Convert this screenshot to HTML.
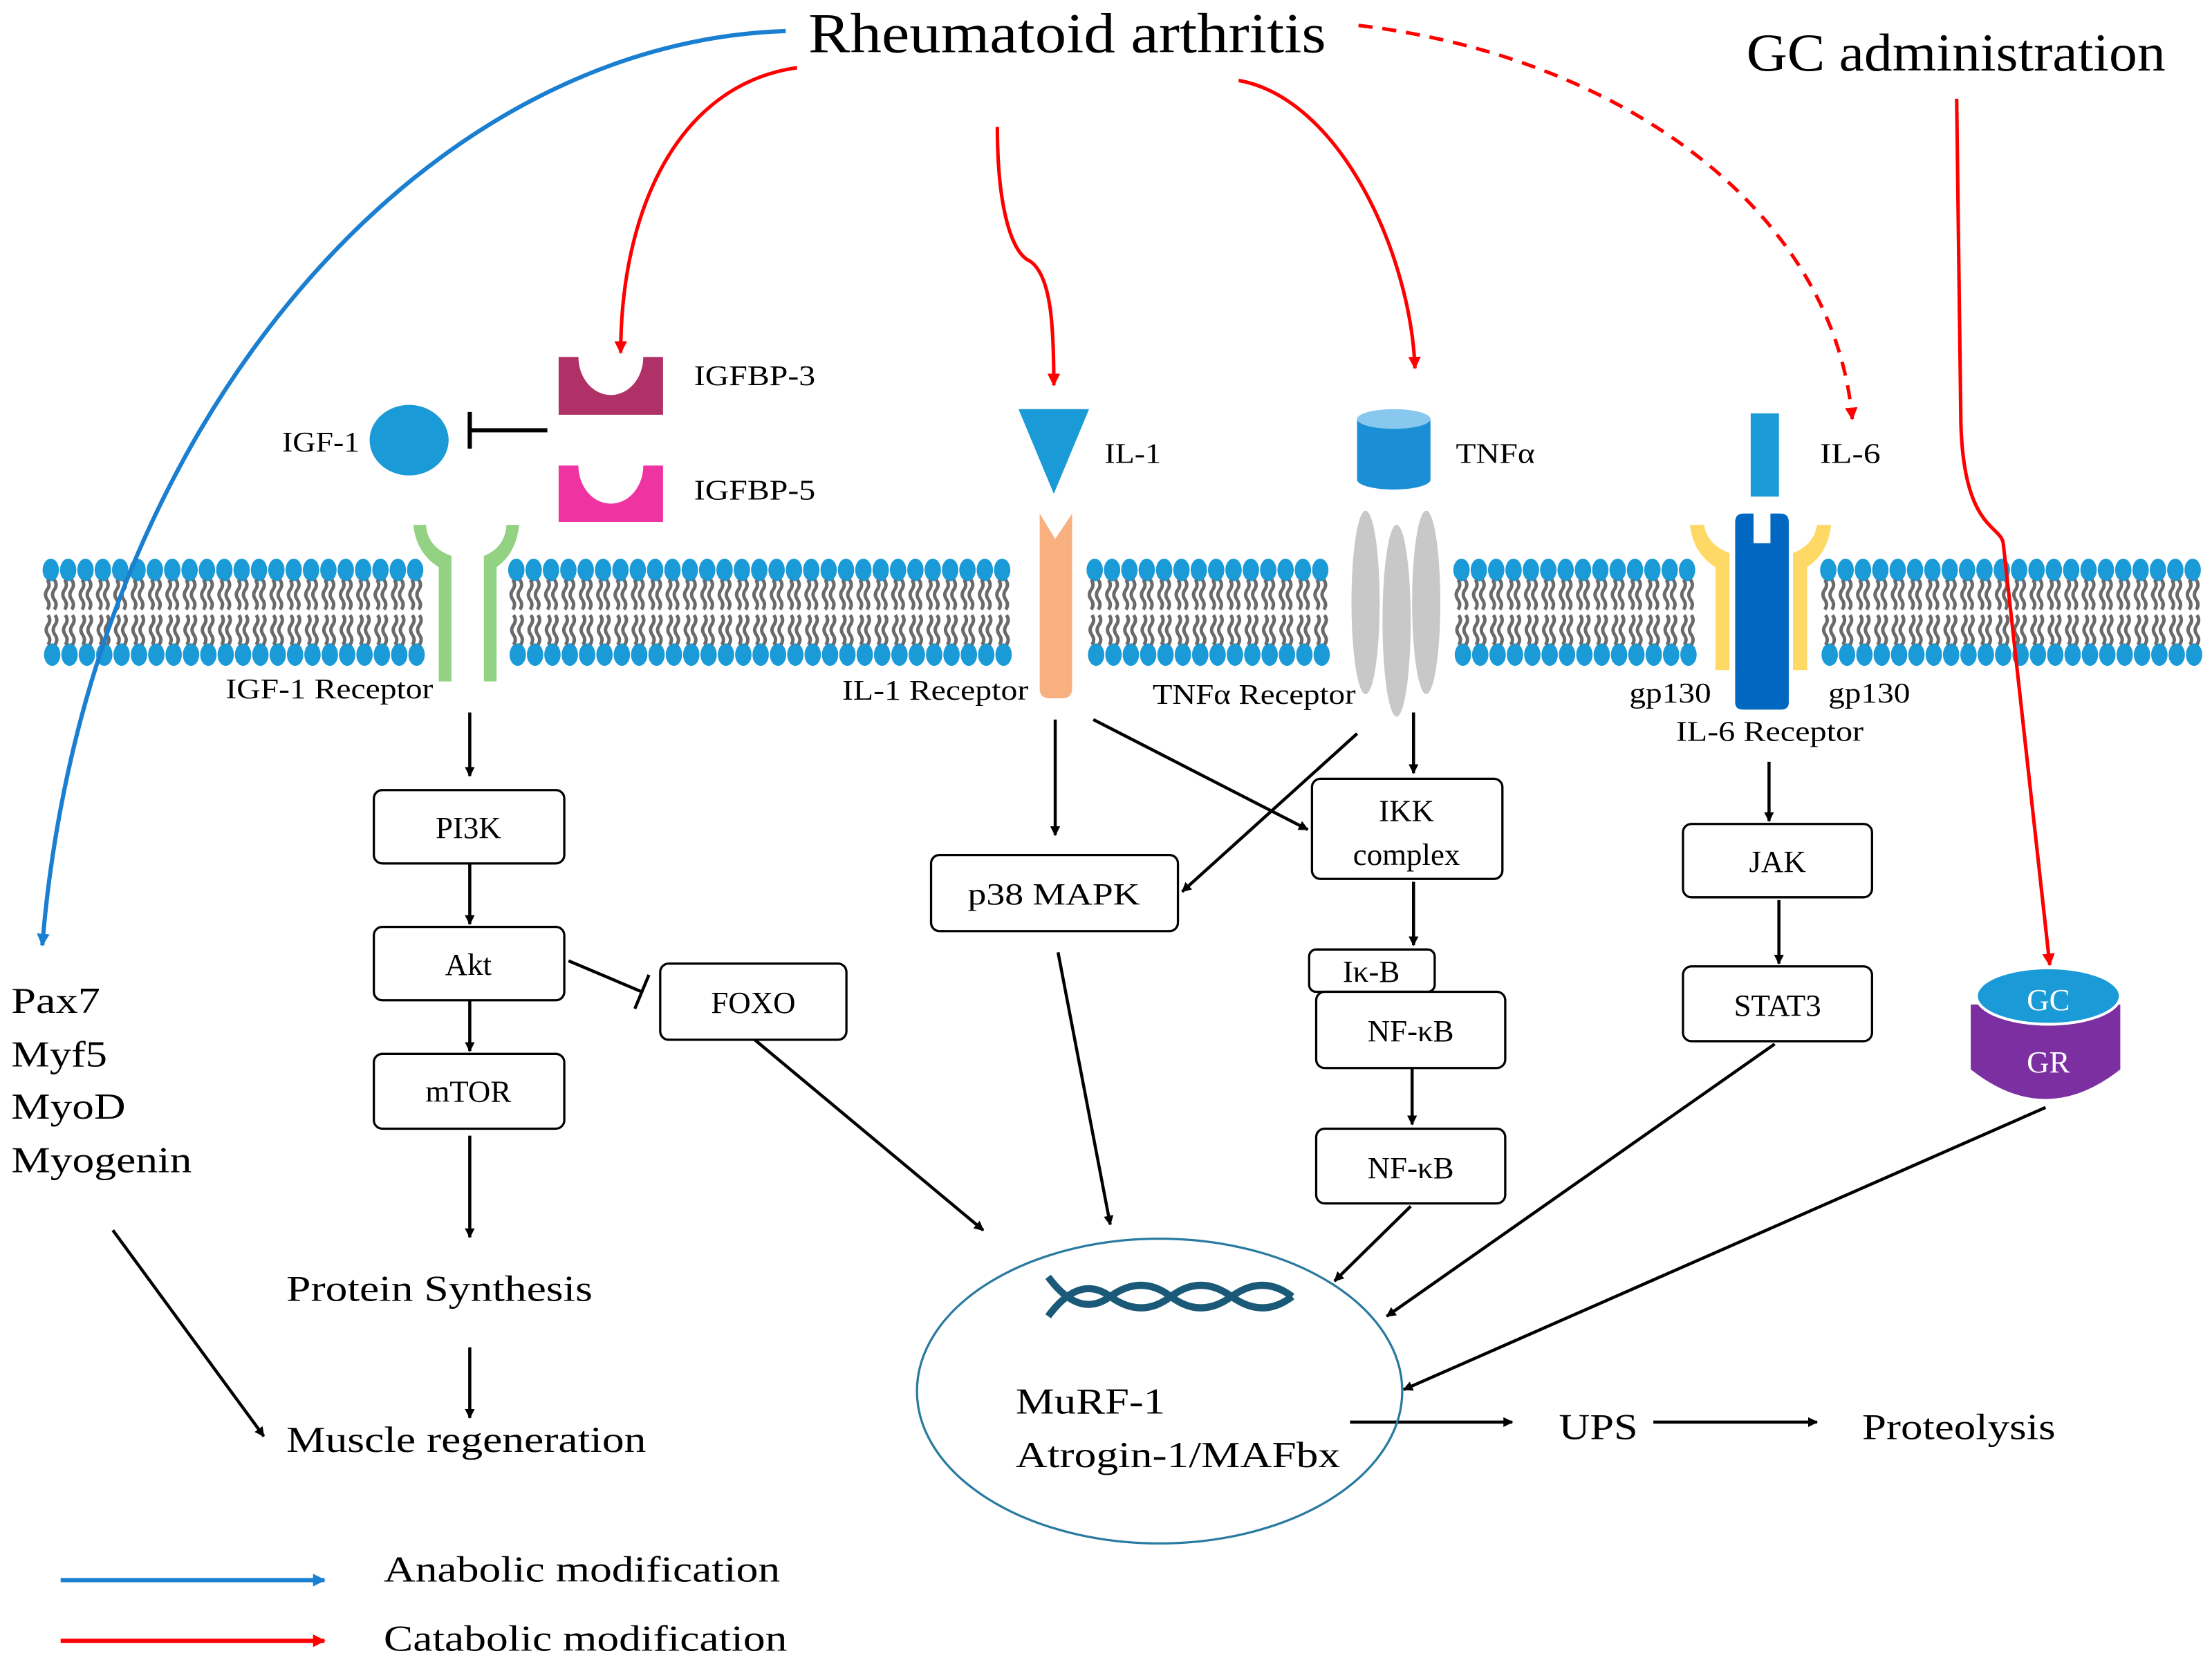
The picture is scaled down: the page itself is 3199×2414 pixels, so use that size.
<!DOCTYPE html>
<html><head><meta charset="utf-8"><style>
html,body{margin:0;padding:0;background:#fff}
svg{display:block}
svg text{font-family:"Liberation Serif","Noto Serif CJK SC","DejaVu Serif",serif;fill:#000}
</style></head><body>
<svg id="s" width="3199" height="2414" viewBox="0 0 1568 1183" preserveAspectRatio="none" xmlns="http://www.w3.org/2000/svg">
<defs>
<marker id="ab" viewBox="0 0 10 10" refX="9" refY="5" markerWidth="7" markerHeight="7" orient="auto" markerUnits="userSpaceOnUse"><path d="M0,0 L10,5 L0,10 z" fill="#000"/></marker>
<marker id="ar" viewBox="0 0 10 10" refX="9" refY="5" markerWidth="9" markerHeight="9" orient="auto" markerUnits="userSpaceOnUse"><path d="M0,0 L10,5 L0,10 z" fill="#f00"/></marker>
<marker id="abl" viewBox="0 0 10 10" refX="9" refY="5" markerWidth="9" markerHeight="9" orient="auto" markerUnits="userSpaceOnUse"><path d="M0,0 L10,5 L0,10 z" fill="#1a7fd0"/></marker>
</defs>
<g id="mem"></g>

<g fill="#92d282">
<path d="M293,372 L302,372 Q303,388 320,394 L320,483 L311,483 L311,402 Q295,392 293,372 Z"/>
<path d="M368,372 L359,372 Q358,388 343,394 L343,483 L352,483 L352,402 Q366,392 368,372 Z"/>
</g>
<ellipse cx="290" cy="312" rx="28" ry="25" fill="#1a9ad6"/>
<path d="M388,305 L333,305 M333,292 L333,318" stroke="#000" stroke-width="3" fill="none"/>
<path d="M396,253 L410,253 A23,27 0 0 0 456,253 L470,253 L470,294 L396,294 Z" fill="#b03068"/>
<path d="M396,330 L410,330 A23,27 0 0 0 456,330 L470,330 L470,370 L396,370 Z" fill="#ee34a0"/>
<text x="492" y="273" font-size="20" textLength="86" lengthAdjust="spacingAndGlyphs">IGFBP-3</text>
<text x="492" y="354" font-size="20" textLength="86" lengthAdjust="spacingAndGlyphs">IGFBP-5</text>
<text x="200" y="320" font-size="20" textLength="55" lengthAdjust="spacingAndGlyphs">IGF-1</text>
<text x="160" y="495" font-size="20" textLength="147" lengthAdjust="spacingAndGlyphs">IGF-1 Receptor</text>

<polygon points="722,290 772,290 747,350" fill="#1a9ad6"/>
<path d="M737,364 L748,382 L760,364 L760,488 Q760,495 753,495 L744,495 Q737,495 737,488 Z" fill="#f9b080"/>
<text x="783" y="328" font-size="20" textLength="40" lengthAdjust="spacingAndGlyphs">IL-1</text>
<text x="597" y="496" font-size="20" textLength="132" lengthAdjust="spacingAndGlyphs">IL-1 Receptor</text>

<path d="M962,297 L962,340 A26,7 0 0 0 1014,340 L1014,297 Z" fill="#1a8fd6"/>
<ellipse cx="988" cy="297" rx="26" ry="7" fill="#88c8ee"/>
<g fill="#c8c8c8">
<ellipse cx="968" cy="427" rx="10" ry="65"/><ellipse cx="990" cy="440" rx="10" ry="68"/><ellipse cx="1011" cy="427" rx="10" ry="65"/>
</g>
<text x="1032" y="328" font-size="20" textLength="56" lengthAdjust="spacingAndGlyphs">TNFα</text>
<text x="817" y="499" font-size="20" textLength="144" lengthAdjust="spacingAndGlyphs">TNFα Receptor</text>

<rect x="1241" y="293" width="20" height="59" fill="#1a9ad6"/>
<g fill="#ffd966">
<path d="M1198,372 L1208,372 Q1210,386 1226,392 L1226,475 L1216,475 L1216,402 Q1200,392 1198,372 Z"/>
<path d="M1298,372 L1288,372 Q1286,386 1271,392 L1271,475 L1281,475 L1281,402 Q1296,392 1298,372 Z"/>
</g>
<path d="M1230,370 Q1230,364 1236,364 L1243,364 L1243,385 L1255,385 L1255,364 L1262,364 Q1268,364 1268,370 L1268,498 Q1268,503 1262,503 L1236,503 Q1230,503 1230,498 Z" fill="#0068c0"/>
<text x="1290" y="328" font-size="20" textLength="43" lengthAdjust="spacingAndGlyphs">IL-6</text>
<text x="1155" y="498" font-size="20" textLength="58" lengthAdjust="spacingAndGlyphs">gp130</text>
<text x="1296" y="498" font-size="20" textLength="58" lengthAdjust="spacingAndGlyphs">gp130</text>
<text x="1188" y="525" font-size="20" textLength="133" lengthAdjust="spacingAndGlyphs">IL-6 Receptor</text>

<text x="573" y="37" font-size="40" textLength="367" lengthAdjust="spacingAndGlyphs">Rheumatoid arthritis</text>
<text x="1238" y="50" font-size="38" textLength="297" lengthAdjust="spacingAndGlyphs">GC administration</text>

<path d="M557,22 C300,30 60,300 30,670" stroke="#1a7fd0" stroke-width="3" fill="none" marker-end="url(#abl)"/>
<path d="M565,48 C480,60 440,150 440,250" stroke="#f00" stroke-width="2.5" fill="none" marker-end="url(#ar)"/>
<path d="M707,90 C707,150 718,180 730,185 C745,195 747,230 747,273" stroke="#f00" stroke-width="2.5" fill="none" marker-end="url(#ar)"/>
<path d="M878,57 C950,70 1000,180 1003,261" stroke="#f00" stroke-width="2.5" fill="none" marker-end="url(#ar)"/>
<path d="M963,18 C1150,40 1300,150 1313,297" stroke="#f00" stroke-width="2.5" fill="none" stroke-dasharray="10,7" marker-end="url(#ar)"/>
<path d="M1387,70 L1390,300 C1392,375 1418,372 1420,385 L1453,684" stroke="#f00" stroke-width="2.5" fill="none" marker-end="url(#ar)"/>

<g fill="#fff" stroke="#000" stroke-width="1.6">
<rect x="265" y="560" width="135" height="52" rx="6"/>
<rect x="265" y="657" width="135" height="52" rx="6"/>
<rect x="265" y="747" width="135" height="53" rx="6"/>
<rect x="468" y="683" width="132" height="54" rx="6"/>
<rect x="660" y="606" width="175" height="54" rx="6"/>
<rect x="930" y="552" width="135" height="71" rx="6"/>
<rect x="928" y="673" width="89" height="30" rx="5"/>
<rect x="933" y="703" width="134" height="54" rx="6"/>
<rect x="933" y="800" width="134" height="53" rx="6"/>
<rect x="1193" y="584" width="134" height="52" rx="6"/>
<rect x="1193" y="685" width="134" height="53" rx="6"/>
</g>
<g font-size="22" text-anchor="middle">
<text x="332" y="594">PI3K</text>
<text x="332" y="691">Akt</text>
<text x="332" y="781">mTOR</text>
<text x="534" y="718">FOXO</text>
<text x="747" y="641" textLength="122" lengthAdjust="spacingAndGlyphs">p38 MAPK</text>
<text x="997" y="582">IKK</text>
<text x="997" y="613">complex</text>
<text x="972" y="696">Iκ-B</text>
<text x="1000" y="738">NF-κB</text>
<text x="1000" y="835">NF-κB</text>
<text x="1260" y="618">JAK</text>
<text x="1260" y="720">STAT3</text>
</g>

<g stroke="#000" stroke-width="2.2" fill="none" marker-end="url(#ab)">
<path d="M333,505 L333,550"/><path d="M333,612 L333,655"/><path d="M333,709 L333,745"/>
<path d="M333,805 L333,877"/><path d="M333,955 L333,1005"/>
<path d="M535,737 L697,872"/><path d="M80,872 L187,1018"/>
<path d="M748,510 L748,592"/><path d="M775,510 L927,588"/><path d="M962,520 L838,632"/>
<path d="M1002,505 L1002,548"/><path d="M1002,625 L1002,670"/><path d="M1001,757 L1001,797"/>
<path d="M750,675 L787,868"/><path d="M1000,855 L946,908"/>
<path d="M1258,740 L983,933"/><path d="M1450,785 L995,985"/>
<path d="M1254,540 L1254,582"/><path d="M1261,638 L1261,683"/>
<path d="M957,1008 L1072,1008"/><path d="M1172,1008 L1288,1008"/>
</g>
<path d="M403,681 L455,703 M460,691 L450,715" stroke="#000" stroke-width="2.2" fill="none"/>

<path d="M1397,712 L1397,758 Q1450,800 1503,758 L1503,712 Z" fill="#7b2fa0"/>
<ellipse cx="1452" cy="706" rx="51" ry="20" fill="#1a9ad6" stroke="#fff" stroke-width="2"/>
<text x="1452" y="716" font-size="22" text-anchor="middle" style="fill:#fff">GC</text>
<text x="1452" y="760" font-size="22" text-anchor="middle" style="fill:#fff">GR</text>

<ellipse cx="822" cy="986" rx="172" ry="108" fill="none" stroke="#2a7aa0" stroke-width="1.6"/>
<g stroke="#1a5a78" stroke-width="5" fill="none">
<path d="M743,905 Q765,935 787,919 T830,919 T873,919 T916,919"/>
<path d="M743,933 Q765,903 787,919 T830,919 T873,919 T916,919"/>
</g>
<text x="720" y="1002" font-size="26" textLength="106" lengthAdjust="spacingAndGlyphs">MuRF-1</text>
<text x="720" y="1040" font-size="26" textLength="230" lengthAdjust="spacingAndGlyphs">Atrogin-1/MAFbx</text>
<text x="1105" y="1020" font-size="26" textLength="56" lengthAdjust="spacingAndGlyphs">UPS</text>
<text x="1320" y="1020" font-size="26" textLength="137" lengthAdjust="spacingAndGlyphs">Proteolysis</text>

<g font-size="26">
<text x="8" y="718" textLength="63" lengthAdjust="spacingAndGlyphs">Pax7</text>
<text x="8" y="756" textLength="68" lengthAdjust="spacingAndGlyphs">Myf5</text>
<text x="8" y="793" textLength="81" lengthAdjust="spacingAndGlyphs">MyoD</text>
<text x="8" y="831" textLength="128" lengthAdjust="spacingAndGlyphs">Myogenin</text>
<text x="203" y="922" textLength="217" lengthAdjust="spacingAndGlyphs">Protein Synthesis</text>
<text x="203" y="1029" textLength="255" lengthAdjust="spacingAndGlyphs">Muscle regeneration</text>
<text x="272" y="1121" textLength="281" lengthAdjust="spacingAndGlyphs">Anabolic modification</text>
<text x="272" y="1170" textLength="286" lengthAdjust="spacingAndGlyphs">Catabolic modification</text>
</g>
<path d="M43,1120 L230,1120" stroke="#1a7fd0" stroke-width="3" marker-end="url(#abl)"/>
<path d="M43,1163 L230,1163" stroke="#f00" stroke-width="3" marker-end="url(#ar)"/>
</svg>
<script>
(function(){
var segs=[[30,300],[360,722],[770,952],[1030,1208],[1290,1560]];
var h='';
segs.forEach(function(s){
  for(var x=s[0]+6;x<=s[1]-5;x+=12.3){
    h+='<ellipse cx="'+x.toFixed(1)+'" cy="404" rx="5.8" ry="8" fill="#1a9ad6"/>';
    h+='<ellipse cx="'+(x+1).toFixed(1)+'" cy="464" rx="5.8" ry="8" fill="#1a9ad6"/>';
    var a=x-2.5,b=x+2.5;
    [a,b].forEach(function(t){
      h+='<path d="M'+t.toFixed(1)+',411 q2.5,3.5 0,7 q-2.5,3.5 0,7 q2.5,3.5 0,7" stroke="#6a6a6a" stroke-width="2.4" fill="none"/>';
      h+='<path d="M'+(t+0.5).toFixed(1)+',436 q2.5,3.5 0,7 q-2.5,3.5 0,7 q2.5,3.5 0,7" stroke="#6a6a6a" stroke-width="2.4" fill="none"/>';
    });
  }
});
document.getElementById('mem').innerHTML=h;
})();
</script>
</body></html>
